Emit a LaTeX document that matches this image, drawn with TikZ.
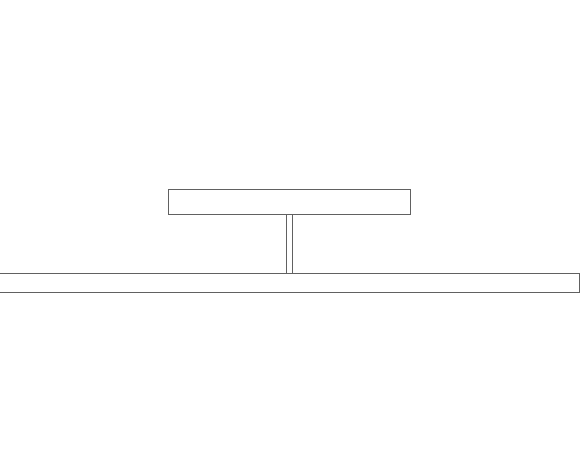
\documentclass[tikz,border=0pt]{standalone}
\usetikzlibrary{positioning}

\tikzstyle{plate}=[draw=black!62,line width=0.7pt,rectangle,inner sep=0pt]
\tikzstyle{rib} = [draw=black!62,line width=0.7pt,-]
\newcommand{\stemhalf}{2.8}

\begin{document}
\begin{tikzpicture}[x=1pt, y=-1pt]
    \useasboundingbox (0,0) rectangle (585,471);
    % First we place the base bar and the deck above it
    \node[plate, minimum width=580.3pt, minimum height=19pt] (bar) at (289.2,282.8) {};
    \node[plate, minimum width=242.5pt, minimum height=24.7pt, above=58.3pt of bar] (deck) {};
    % Join them with the two lines of the stem
    \foreach \dx in {-\stemhalf, \stemhalf}
        \path[rib] ([xshift=\dx pt]deck.south) -- ([xshift=\dx pt]deck.south |- bar.north);
\end{tikzpicture}
\end{document}
